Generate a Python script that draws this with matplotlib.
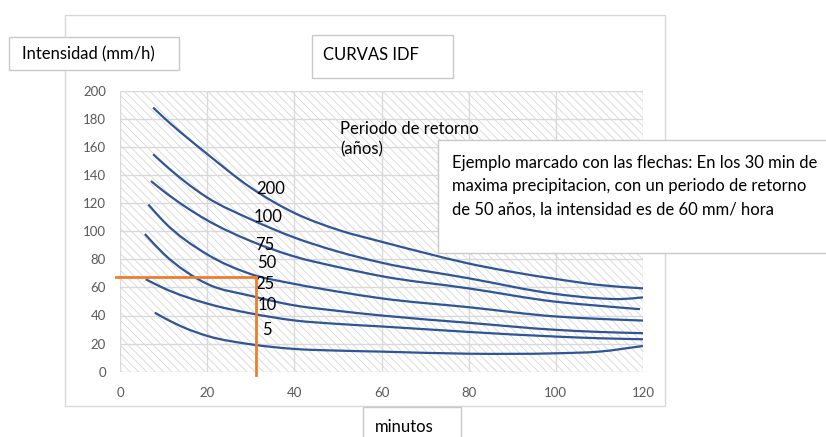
import numpy as np
import matplotlib
matplotlib.use('Agg')
import matplotlib.pyplot as plt
from matplotlib.path import Path
from matplotlib.patches import PathPatch, Rectangle

W, H = 826, 437
plt.rcParams['font.family'] = ['Lato', 'DejaVu Sans']
plt.rcParams['hatch.linewidth'] = 0.6

# periodos de retorno (años) y curvas leidas: duracion (min) vs intensidad (mm/h)
periodos = [200, 100, 75, 50, 25, 10, 5]

t_200 = [7.6, 10, 20, 30, 40, 50, 60, 70, 80, 90, 100, 110, 120]
i_200 = [188, 181, 155, 131, 113, 101, 92.5, 84.5, 77, 71, 66, 61.7, 59.3]
t_100 = [7.6, 10, 20, 30, 40, 50, 60, 80, 100, 110, 115, 120]
i_100 = [154.8, 148, 124, 108.5, 95.5, 85.5, 77.6, 66.5, 55.3, 52.2, 51.7, 52.9]
t_75 = [7.1, 10, 20, 30, 40, 50, 60, 80, 100, 110, 119.3]
i_75 = [135.7, 128.5, 107.8, 93, 82, 74.5, 68, 59.3, 49.8, 46.9, 44.5]
t_50 = [6.5, 10, 20, 30, 40, 50, 60, 80, 100, 110, 120]
i_50 = [119, 107, 83.5, 69.5, 62.5, 57, 52.2, 45.9, 39.3, 37.6, 36.4]
t_25 = [5.7, 10, 20, 30, 40, 50, 60, 80, 100, 110, 120]
i_25 = [98, 84, 62.5, 54, 47.2, 43.3, 40, 34.8, 29.8, 28.3, 27.4]
t_10 = [5.9, 10, 20, 30, 40, 50, 60, 80, 100, 110, 120]
i_10 = [65.8, 59.5, 48.5, 41.5, 36.5, 34, 32.2, 28.3, 25, 23.8, 23.1]
t_5 = [8, 10, 15, 20, 30, 40, 50, 60, 80, 100, 110, 120]
i_5 = [42, 38.5, 31, 25.5, 19.5, 16.2, 15, 14.3, 12.8, 13.1, 14.3, 18.3]

curvas = [(t_200, i_200), (t_100, i_100), (t_75, i_75), (t_50, i_50),
          (t_25, i_25), (t_10, i_10), (t_5, i_5)]

# posicion de la etiqueta de cada curva (min, mm/h)
etiqueta_t = [34.6, 33.9, 33.3, 33.7, 33.3, 33.7, 33.7]
etiqueta_i = [130, 110, 90.5, 77.5, 62.5, 47.5, 29.5]

# ejemplo: 30 min, T = 50 años
ej_t = 31.1
ej_i = 67.6

X_TICKS = list(range(0, 121, 20))
Y_TICKS = list(range(0, 201, 20))

AZUL = '#2f5597'
NARANJA = '#ed7d31'
BORDE = '#c9c9c9'


def fx(px):
    return px / W


def fy(py):
    return 1 - py / H


def curva_suave(x, y):
    # hermite cubica en x pasada a beziers (lineas suavizadas)
    x = np.asarray(x, float)
    y = np.asarray(y, float)
    n = len(x)
    h = np.diff(x)
    d = np.diff(y) / h
    m = np.empty(n)
    m[0] = d[0]
    m[-1] = d[-1]
    for k in range(1, n - 1):
        m[k] = (d[k - 1] * h[k] + d[k] * h[k - 1]) / (h[k - 1] + h[k])
    verts = [(x[0], y[0])]
    codes = [Path.MOVETO]
    for k in range(n - 1):
        verts += [(x[k] + h[k] / 3, y[k] + m[k] * h[k] / 3),
                  (x[k + 1] - h[k] / 3, y[k + 1] - m[k + 1] * h[k] / 3),
                  (x[k + 1], y[k + 1])]
        codes += [Path.CURVE4] * 3
    return Path(verts, codes)


def caja(x0, y0, x1, y1):
    fig.patches.append(Rectangle((fx(x0), fy(y1)), fx(x1) - fx(x0), fy(y0) - fy(y1),
                                 transform=fig.transFigure, facecolor='white',
                                 edgecolor=BORDE, lw=1.0, zorder=5))


fig = plt.figure(figsize=(W / 100, H / 100), dpi=100)

# marco del grafico
fig.patches.append(Rectangle((fx(65), fy(406)), fx(665) - fx(65), fy(15) - fy(406),
                             transform=fig.transFigure, facecolor='white',
                             edgecolor='#d9d9d9', lw=1.0, zorder=-1))

ax = fig.add_axes([fx(120), fy(371.7), fx(643) - fx(120), fy(90.7) - fy(371.7)])
ax.set_xlim(0, 120)
ax.set_ylim(0, 200)
ax.set_facecolor('white')
ax.add_patch(Rectangle((0, 0), 1, 1, transform=ax.transAxes, facecolor='white',
                       edgecolor='#d6d6d6', lw=0, hatch='\\\\\\\\', zorder=0))
ax.set_axisbelow(True)
ax.grid(True, color='#d9d9d9', lw=1.0)
ax.set_xticks(X_TICKS)
ax.set_yticks(Y_TICKS)
ax.tick_params(length=0, labelsize=9.5, labelcolor='#595959')
ax.tick_params(axis='x', pad=11)
ax.tick_params(axis='y', pad=10)
for s in ax.spines.values():
    s.set_visible(False)

for (t, i) in curvas:
    ax.add_patch(PathPatch(curva_suave(t, i), fill=False, edgecolor=AZUL,
                           lw=1.6, capstyle='butt', zorder=3))

for T, xt, yt in zip(periodos, etiqueta_t, etiqueta_i):
    ax.text(xt, yt, str(T), fontsize=12, ha='center', va='center', zorder=4)

# lineas del ejemplo marcado
ax.plot([-0.9, ej_t, ej_t], [ej_i, ej_i, -2.4], color=NARANJA, lw=2.0,
        clip_on=False, solid_joinstyle='miter', zorder=4)

ax.text(50.5, 178.5, 'Periodo de retorno\n(años)', fontsize=12, ha='left',
        va='top', linespacing=1.3)

# cajas de texto
caja(9, 37, 179, 70)
fig.text(fx(22), fy(54), 'Intensidad (mm/h)', fontsize=12, ha='left', va='center', zorder=6)

caja(312, 35, 453, 78)
fig.text(fx(323), fy(55), 'CURVAS IDF', fontsize=12, ha='left', va='center', zorder=6)

caja(438, 140, 830, 253)
fig.text(fx(452), fy(186),
         'Ejemplo marcado con las flechas: En los 30 min de\n'
         'maxima precipitacion, con un periodo de retorno\n'
         'de 50 años, la intensidad es de 60 mm/ hora',
         fontsize=12, ha='left', va='center', linespacing=1.55, zorder=6)

caja(363, 407, 461, 445)
fig.text(fx(375), fy(427), 'minutos', fontsize=12, ha='left', va='center', zorder=6)

fig.savefig('out.png', dpi=100)
